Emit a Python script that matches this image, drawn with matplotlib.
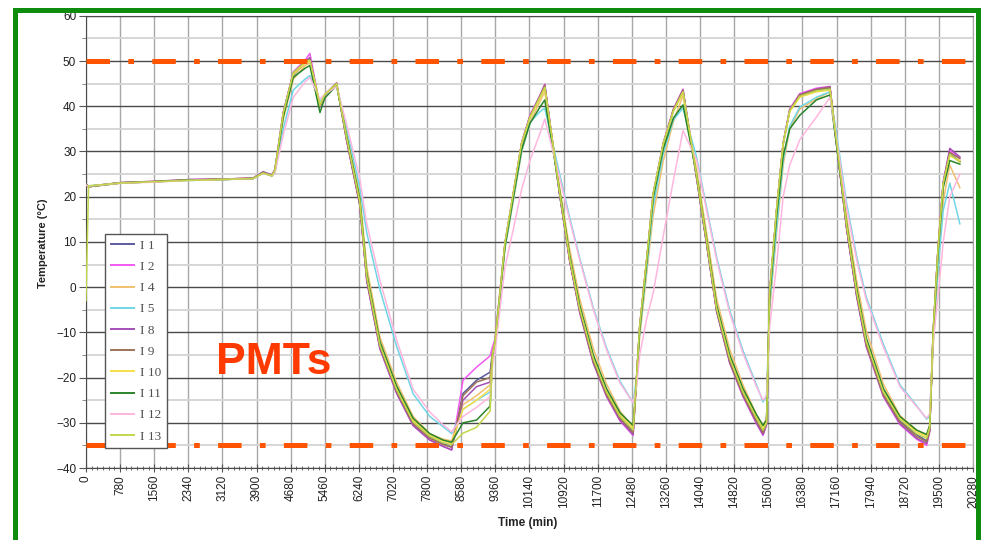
import numpy as np
import matplotlib
matplotlib.use("Agg")
import matplotlib.pyplot as plt
from matplotlib.ticker import MultipleLocator
from matplotlib.patches import Rectangle

# time axis (min), shared by every sensor
time_min = [0, 60, 780, 1530, 2380, 3130, 3820, 4050, 4250, 4320,
            4510, 4740, 5010, 5120, 5350, 5460, 5730, 5960, 6260, 6420,
            6720, 7100, 7480, 7860, 8160, 8360, 8620, 8930, 9240, 9300,
            9350, 9580, 9770, 9960, 10150, 10380, 10490, 10830, 11060, 11290,
            11600, 11900, 12210, 12510, 12590, 12660, 12820, 12970, 13200, 13430,
            13650, 13960, 14190, 14420, 14720, 15020, 15330, 15480, 15560, 15630,
            15790, 15940, 16090, 16320, 16700, 17010, 17160, 17390, 17620, 17840,
            18230, 18610, 18990, 19220, 19290, 19370, 19480, 19600, 19750, 19980]

I1 = [22.8, 22.3, 23.1, 23.3, 23.7, 23.8, 24.0, 25.4, 24.7, 25.8,
      38.0, 46.8, 49.6, 50.4, 40.2, 42.4, 45.0, 32.8, 18.6, 2.0,
      -13.0, -22.8, -30.0, -33.2, -34.6, -35.4, -23.5, -20.6, -18.8, -14.0,
      -12.2, 9.5, 20.5, 31.5, 37.6, 42.0, 44.5, 20.5, 6.0, -5.2,
      -16.4, -23.6, -28.8, -32.0, -19.8, -8.8, 6.0, 20.5, 31.6, 39.0,
      43.4, 24.2, 9.6, -5.2, -16.4, -23.6, -29.4, -32.0, -30.0, -1.6,
      17.0, 31.6, 39.0, 42.4, 43.6, 44.0, 31.6, 13.2, -1.6, -12.6,
      -23.6, -29.6, -32.6, -34.0, -31.6, -10.0, 8.2, 23.0, 29.5, 27.8]

I2 = [22.6, 22.2, 23.0, 23.3, 23.8, 23.9, 24.1, 25.5, 24.8, 26.0,
      38.6, 47.6, 50.2, 51.7, 40.0, 42.6, 45.2, 32.4, 18.2, 1.4,
      -13.6, -23.4, -30.6, -33.8, -35.2, -36.0, -20.6, -17.7, -15.2, -13.0,
      -11.6, 9.8, 20.8, 32.0, 38.0, 42.4, 44.9, 20.6, 5.8, -5.6,
      -16.8, -24.2, -29.6, -32.8, -19.6, -8.6, 6.2, 20.8, 32.0, 39.4,
      43.8, 24.4, 9.6, -5.4, -16.8, -24.2, -30.2, -32.8, -30.4, -1.2,
      17.2, 32.0, 39.4, 42.8, 44.0, 44.4, 31.8, 13.0, -2.0, -13.2,
      -24.2, -30.4, -33.6, -35.0, -32.0, -9.6, 8.6, 23.4, 30.2, 28.6]

I4 = [22.7, 22.3, 23.1, 23.4, 23.7, 23.9, 24.1, 25.3, 24.7, 25.6,
      37.0, 46.0, 49.0, 49.6, 40.6, 42.6, 44.8, 34.0, 20.5, 4.5,
      -11.0, -21.0, -28.6, -32.4, -33.6, -34.0, -26.0, -24.0, -21.6, -14.6,
      -12.8, 8.6, 19.0, 29.8, 36.4, 41.0, 43.2, 22.0, 8.4, -2.6,
      -13.6, -21.4, -27.4, -31.0, -21.0, -11.0, 3.0, 16.0, 28.0, 36.6,
      42.4, 26.0, 12.0, -2.6, -13.8, -21.6, -28.2, -30.6, -29.0, -5.0,
      12.0, 27.0, 35.0, 39.4, 41.6, 43.2, 33.0, 15.6, 1.4, -9.6,
      -21.4, -28.4, -31.6, -32.6, -30.6, -13.0, 4.0, 19.0, 27.0, 22.0]

I5 = [22.7, 22.4, 23.0, 23.3, 23.6, 23.8, 24.0, 25.2, 24.6, 25.4,
      35.0, 43.6, 46.0, 46.8, 41.0, 42.6, 44.6, 35.0, 22.0, 12.0,
      -0.5, -13.0, -23.6, -28.6, -30.8, -32.4, -27.0, -25.0, -23.2, -14.4,
      -12.6, 8.6, 19.4, 30.0, 36.4, 38.8, 39.6, 25.0, 15.4, 6.4,
      -4.6, -13.4, -20.8, -25.6, -20.0, -10.0, 4.0, 18.0, 29.6, 37.0,
      39.6, 28.8, 17.6, 6.6, -5.2, -14.0, -21.6, -25.4, -24.0, -4.0,
      13.0, 28.0, 35.6, 39.8, 42.0, 43.2, 34.0, 18.6, 6.8, -2.2,
      -12.6, -21.6, -26.2, -29.2, -28.6, -12.0, 4.0, 17.0, 23.0, 14.0]

I8 = [22.7, 22.2, 23.1, 23.4, 23.8, 23.9, 24.1, 25.5, 24.8, 26.0,
      38.6, 47.4, 49.9, 50.8, 39.8, 42.4, 45.0, 32.4, 18.2, 1.4,
      -13.6, -23.4, -30.6, -33.8, -35.2, -36.0, -25.0, -22.0, -21.0, -14.4,
      -12.4, 9.6, 20.6, 31.8, 37.8, 42.3, 44.7, 20.4, 5.8, -5.6,
      -16.8, -24.0, -29.4, -32.6, -19.8, -8.8, 6.0, 20.6, 31.8, 39.2,
      43.6, 24.4, 9.6, -5.4, -16.8, -24.0, -30.0, -32.6, -30.4, -1.4,
      17.0, 31.8, 39.2, 42.6, 43.8, 44.3, 31.8, 13.0, -2.0, -13.0,
      -24.0, -30.2, -33.4, -34.6, -31.8, -10.0, 8.4, 23.2, 30.7, 28.8]

I9 = [22.8, 22.3, 23.1, 23.3, 23.7, 23.9, 24.1, 25.4, 24.7, 25.9,
      38.4, 47.2, 49.8, 50.4, 40.0, 42.5, 45.1, 32.6, 18.4, 1.8,
      -13.2, -23.0, -30.2, -33.4, -34.8, -35.4, -24.0, -21.0, -20.0, -14.2,
      -12.4, 9.6, 20.6, 31.7, 37.7, 42.2, 44.6, 20.6, 5.9, -5.3,
      -16.5, -23.8, -29.0, -32.2, -19.8, -8.8, 6.0, 20.6, 31.7, 39.2,
      43.5, 24.3, 9.6, -5.2, -16.5, -23.8, -29.6, -32.2, -30.2, -1.5,
      17.0, 31.7, 39.1, 42.5, 43.7, 44.2, 31.7, 13.2, -1.6, -12.8,
      -23.8, -29.8, -33.0, -34.2, -31.7, -10.1, 8.3, 23.0, 29.8, 28.4]

I10 = [22.6, 22.2, 23.0, 23.3, 23.7, 23.8, 24.0, 25.3, 24.6, 25.8,
       38.2, 47.0, 49.5, 50.0, 40.4, 42.6, 44.9, 33.4, 19.4, 2.8,
       -12.4, -22.2, -29.4, -32.8, -34.0, -34.5, -27.0, -25.0, -22.6, -14.4,
       -12.2, 9.6, 20.6, 31.6, 37.4, 41.8, 44.0, 21.2, 6.6, -4.4,
       -15.4, -22.8, -28.2, -31.2, -19.8, -8.8, 6.0, 20.6, 31.6, 38.8,
       43.0, 25.0, 10.4, -4.4, -15.4, -22.8, -28.6, -31.2, -29.6, -1.4,
       17.0, 31.6, 38.8, 42.0, 43.2, 43.6, 32.4, 14.0, -0.6, -11.6,
       -22.8, -28.8, -32.0, -33.0, -30.8, -10.0, 8.2, 22.8, 29.0, 28.0]

I11 = [22.7, 22.2, 23.0, 23.3, 23.7, 23.8, 24.0, 25.3, 24.6, 25.6,
       37.6, 46.4, 48.4, 49.0, 38.6, 41.8, 44.6, 33.4, 19.6, 3.0,
       -12.0, -21.8, -29.0, -32.4, -33.8, -34.3, -30.0, -29.4, -26.3, -15.0,
       -12.8, 9.0, 19.8, 30.4, 36.2, 39.8, 41.4, 21.4, 7.0, -4.0,
       -15.0, -22.4, -27.8, -30.6, -20.2, -9.4, 5.4, 19.8, 30.6, 37.4,
       40.3, 25.0, 10.6, -4.0, -15.0, -22.4, -28.2, -30.6, -29.4, -2.4,
       15.6, 29.0, 35.0, 38.0, 41.4, 42.5, 31.4, 14.2, -0.2, -11.2,
       -22.4, -28.6, -31.6, -32.6, -30.6, -10.6, 7.6, 22.0, 28.0, 27.2]

I12 = [22.6, 22.3, 23.0, 23.2, 23.6, 23.8, 24.0, 25.2, 24.6, 25.3,
       33.6, 42.0, 45.4, 46.4, 41.6, 42.6, 44.4, 36.0, 24.0, 14.0,
       1.5, -11.6, -22.6, -27.6, -30.4, -32.0, -28.6, -26.6, -24.2, -17.0,
       -14.4, 4.4, 12.8, 21.6, 28.0, 34.0, 37.2, 24.2, 14.8, 6.0,
       -5.0, -13.8, -21.2, -25.6, -22.0, -15.0, -7.0, -1.2, 11.4, 23.6,
       34.6, 28.2, 17.0, 6.0, -5.8, -14.6, -22.0, -25.0, -24.0, -9.0,
       5.0, 20.0, 27.0, 32.6, 37.6, 42.0, 33.0, 17.6, 6.0, -2.8,
       -13.2, -22.0, -26.4, -29.0, -28.0, -12.0, -2.0, 10.0, 20.0, 25.0]

I13 = [-3.0, 22.4, 23.0, 23.3, 23.6, 23.8, 24.0, 25.2, 24.6, 25.8,
       38.4, 47.4, 49.8, 50.2, 40.2, 42.6, 45.0, 33.0, 19.0, 2.4,
       -12.8, -22.6, -29.8, -33.0, -34.4, -34.8, -32.3, -31.0, -27.4, -14.8,
       -12.6, 9.8, 20.8, 31.8, 37.6, 42.0, 44.2, 21.0, 6.4, -4.8,
       -15.8, -23.2, -28.6, -31.6, -19.6, -8.6, 6.2, 20.8, 31.8, 39.0,
       43.2, 24.8, 10.2, -4.8, -15.8, -23.2, -29.0, -31.6, -30.0, -1.2,
       17.2, 31.8, 39.0, 42.2, 43.4, 43.8, 32.2, 13.8, -1.0, -12.0,
       -23.2, -29.2, -32.4, -33.4, -31.0, -9.8, 8.4, 23.0, 29.4, 27.6]

labels = ["I 1", "I 2", "I 4", "I 5", "I 8", "I 9", "I 10", "I 11", "I 12", "I 13"]
series = [I1, I2, I4, I5, I8, I9, I10, I11, I12, I13]
colors = ["#5C5C9E", "#F25AF2", "#F0C070", "#6FD6E6", "#A450B8",
          "#9C7458", "#F6DE4A", "#2A842A", "#FFB6DE", "#C4D64C"]

limit_hi = 50
limit_lo = -35

fig = plt.figure(figsize=(9.88, 5.40), dpi=100)
ax = fig.add_axes([0.0870, 0.1333, 0.8978, 0.8374])

for vals, lab, c in zip(series, labels, colors):
    ax.plot(time_min, vals, color=c, lw=1.1, label=lab, zorder=3)

dash = (0, (4.7, 3.66, 1.14, 3.66))
ax.axhline(limit_hi, color="#FF5500", lw=3.6, linestyle=dash, zorder=5)
ax.axhline(limit_lo, color="#FF5500", lw=3.6, linestyle=dash, zorder=5)

ax.set_xlim(0, 20280)
ax.set_ylim(-40, 60)
ax.xaxis.set_major_locator(MultipleLocator(780))
ax.xaxis.set_minor_locator(MultipleLocator(130))
ax.yaxis.set_major_locator(MultipleLocator(10))
ax.yaxis.set_minor_locator(MultipleLocator(5))

ax.grid(which="major", axis="x", color="#A8A8A8", lw=1.0, zorder=0)
ax.grid(which="major", axis="y", color="#4A4A4A", lw=1.0, zorder=0)
ax.grid(which="minor", axis="y", color="#D6D6D6", lw=1.4, zorder=0)
ax.set_axisbelow(True)

for s in ["left", "bottom", "top"]:
    ax.spines[s].set_color("#4A4A4A")
ax.spines["right"].set_color("#A8A8A8")

ax.tick_params(axis="x", which="major", direction="inout", length=6, color="#555555",
               labelsize=8.5, labelrotation=90, pad=2, labelcolor="#222222")
ax.tick_params(axis="x", which="minor", direction="inout", length=3, color="#555555")
ax.tick_params(axis="y", which="major", direction="out", length=5, color="#555555",
               labelsize=8.5, pad=2, labelcolor="#222222")
ax.tick_params(axis="y", which="minor", direction="out", length=3, color="#777777")
for lbl in ax.get_xticklabels() + ax.get_yticklabels():
    lbl.set_family("Liberation Sans")

fig.text(43 / 988, 1 - 243 / 540, "Temperature (°C)", rotation=90, ha="center", va="center",
         fontsize=8, fontweight="bold", family="Liberation Sans", color="#222222")
fig.text(528 / 988, 1 - 523 / 540, "Time (min)", ha="center", va="center",
         fontsize=8.5, fontweight="bold", family="Liberation Sans", color="#222222")

leg = ax.legend(loc="upper left", bbox_to_anchor=(105 / 988, 1 - 234 / 540),
                bbox_transform=fig.transFigure, borderaxespad=0, fancybox=False,
                frameon=True, edgecolor="#555555", framealpha=1, handlelength=1.75,
                handletextpad=0.5, labelspacing=0.68, borderpad=0.42,
                prop={"family": "Liberation Serif", "size": 9.5})
leg.get_frame().set_linewidth(1.0)
for t in leg.get_texts():
    t.set_color("#505050")
for h in leg.get_lines():
    h.set_linewidth(1.4)
leg.set_zorder(6)

fig.text(274 / 988, 1 - 362 / 540, "PMTs", ha="center", va="center", fontsize=32,
         fontweight="bold", family="Liberation Sans", color="#FF3A00", zorder=7)

# green frame around the slide
fig.patches.append(Rectangle((14.5 / 988, -1.5 / 540), 963 / 988, 531.5 / 540,
                             transform=fig.transFigure, fill=False,
                             edgecolor="#0E8C0E", lw=3.6, zorder=10))

fig.savefig("out.png", dpi=100)
